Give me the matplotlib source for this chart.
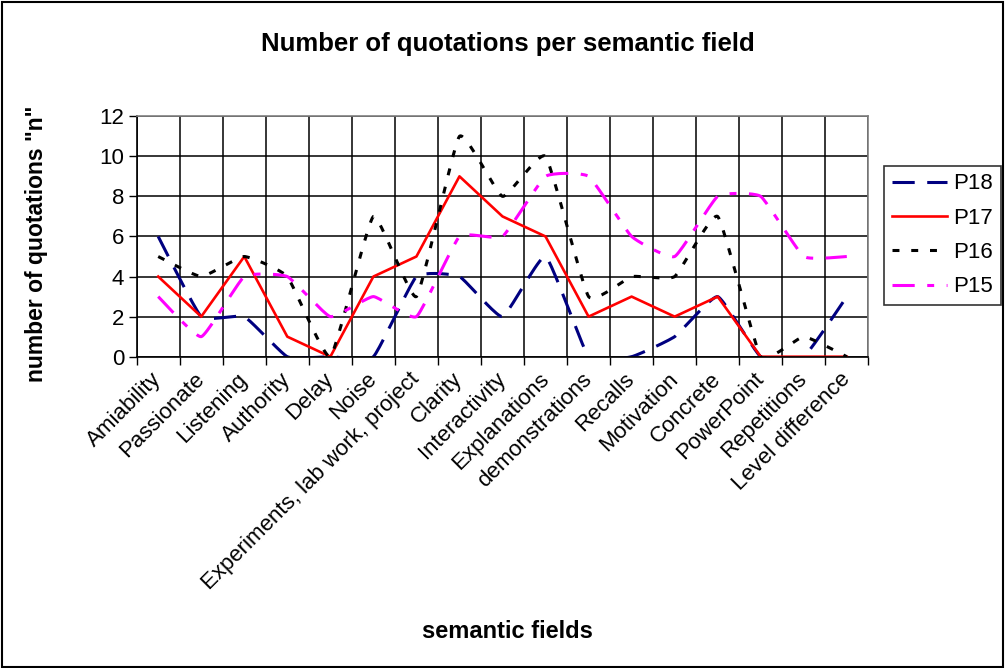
import numpy as np
import matplotlib
matplotlib.use("Agg")
import matplotlib.pyplot as plt
import matplotlib.transforms as mtransforms
from matplotlib.patches import Rectangle

plt.rcParams['font.family'] = ['Liberation Sans', 'DejaVu Sans']
plt.rcParams['lines.scale_dashes'] = False

fields = ['Amiability', 'Passionate', 'Listening', 'Authority', 'Delay', 'Noise',
          'Experiments, lab work, project', 'Clarity', 'Interactivity', 'Explanations',
          'demonstrations', 'Recalls', 'Motivation', 'Concrete', 'PowerPoint',
          'Repetitions', 'Level difference']
p18 = [6, 2, 2, 0, 0, 0, 4, 4, 2, 5, 0, 0, 1, 3, 0, 0, 3]
p17 = [4, 2, 5, 1, 0, 4, 5, 9, 7, 6, 2, 3, 2, 3, 0, 0, 0]
p16 = [5, 4, 5, 4, 0, 7, 3, 11, 8, 10, 3, 4, 4, 7, 0, 1, 0]
p15 = [3, 1, 4, 4, 2, 3, 2, 6, 6, 9, 9, 6, 5, 8, 8, 5, 5]


def smooth(y, n=20, k=0.4):
    # curve through the points with soft corners (excel "smoothed line")
    y = np.asarray(y, float)
    x = np.arange(len(y), dtype=float)
    px = np.concatenate([[x[0]], x, [x[-1]]])
    py = np.concatenate([[y[0]], y, [y[-1]]])
    xs, ys = [], []
    t = np.linspace(0, 1, n, endpoint=False)
    h00 = 2 * t**3 - 3 * t**2 + 1
    h10 = t**3 - 2 * t**2 + t
    h01 = -2 * t**3 + 3 * t**2
    h11 = t**3 - t**2
    for i in range(1, len(px) - 2):
        for arr, out in ((px, xs), (py, ys)):
            p0, p1, p2, p3 = arr[i - 1], arr[i], arr[i + 1], arr[i + 2]
            m1 = k * (p2 - p0) / 2
            m2 = k * (p3 - p1) / 2
            out.extend(h00 * p1 + h10 * m1 + h01 * p2 + h11 * m2)
    xs.append(x[-1])
    ys.append(y[-1])
    return np.array(xs), np.array(ys)


fig = plt.figure(figsize=(10.05, 6.68), dpi=100)
ax = fig.add_axes([0.136, 0.466, 0.728, 0.360])

x = np.arange(len(fields))
lw = 2.2
xs, ys = smooth(p18)
ax.plot(xs, ys, color='#000080', lw=lw, ls=(0, (16, 9)), label='P18')
ax.plot(x, p17, color='#ff0000', lw=1.9, label='P17')
xs, ys = smooth(p16)
ax.plot(xs, ys, color='black', lw=lw, ls=(0, (5, 8.5)), label='P16')
xs, ys = smooth(p15)
ax.plot(xs, ys, color='#ff00ff', lw=lw, ls=(0, (16, 9, 5, 9)), label='P15')

ax.set_xlim(-0.5, len(fields) - 0.5)
ax.set_ylim(0, 12)
ax.set_yticks(range(0, 13, 2))
ax.set_xticks(np.arange(-0.5, len(fields), 1))
ax.set_xticklabels([])
ax.set_xticks(x, minor=True)
ax.set_xticklabels(fields, minor=True, rotation=45, ha='right', va='center',
                   rotation_mode='anchor', fontsize=16)
shift = mtransforms.ScaledTranslation(-7 / 100, -2 / 100, fig.dpi_scale_trans)
for lab in ax.get_xticklabels(minor=True):
    lab.set_transform(lab.get_transform() + shift)
ax.tick_params(axis='x', which='minor', length=0, pad=14)
ax.tick_params(axis='x', which='major', length=6, width=1, direction='out')
ax.tick_params(axis='y', length=6, width=1, labelsize=16, pad=3)
ax.grid(True, which='major', color='black', lw=1.1)
ax.set_axisbelow(True)
for s in ax.spines.values():
    s.set_color('#808080')
    s.set_linewidth(1.2)
ax.spines['bottom'].set_color('black')
ax.spines['left'].set_color('black')

ax.set_ylabel('number of quotations "n"', fontsize=16.5, fontweight='bold')
ax.yaxis.set_label_coords(-0.121, 0.47)
fig.text(0.505, 0.054, 'semantic fields', ha='center', va='center',
         fontsize=17, fontweight='bold')
fig.text(0.505, 0.934, 'Number of quotations per semantic field', ha='center',
         va='center', fontsize=18.5, fontweight='bold')

leg = ax.legend(loc='upper left', bbox_to_anchor=(1.022, 0.795), fontsize=16,
                frameon=True, fancybox=False, edgecolor='black', handlelength=2.45,
                borderpad=0.35, labelspacing=0.6, handletextpad=0.3, borderaxespad=0)
leg.get_frame().set_linewidth(1.2)

fig.patches.append(Rectangle((0.002, 0.002), 0.996, 0.995, transform=fig.transFigure,
                             fill=False, edgecolor='black', lw=1.5))

fig.savefig('out.png', dpi=100)
